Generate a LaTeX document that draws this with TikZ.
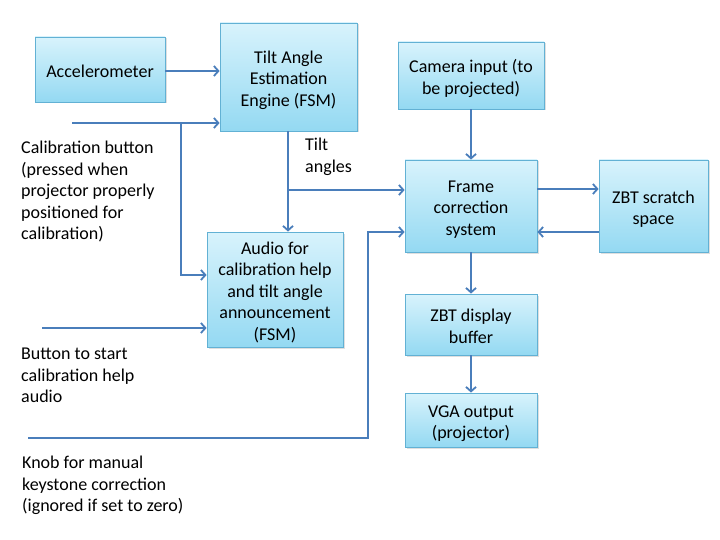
\documentclass[tikz,border=0pt]{standalone}
\usepackage{fontspec}
\setmainfont{Carlito}
\usetikzlibrary{arrows.meta,shadows}
\definecolor{boxtop}{HTML}{D8F3FC}
\definecolor{boxbot}{HTML}{94D9F2}
\definecolor{boxline}{HTML}{62B1D4}
\definecolor{wire}{HTML}{4A7EBB}
% box text, set a little low as in the slides
\newcommand{\boxtext}[1]{\raisebox{-3.5pt}[\height][\depth]{\begin{tabular}{@{}c@{}}#1\end{tabular}}}
\tikzset{
  block/.style={draw=boxline, line width=0.8pt, top color=boxtop, bottom color=boxbot,
    inner sep=2pt, drop shadow={opacity=0.25, shadow xshift=1.5pt, shadow yshift=-1.5pt}},
  wirestyle/.style={draw=wire, line width=2.2pt, -{Straight Barb[length=4.5pt,width=10pt,line width=1.8pt]}},
  info/.style={align=left, anchor=north west, inner sep=0pt}
}
\begin{document}
\begin{tikzpicture}[x=1pt, y=-1pt, font=\fontsize{18}{21.5}\selectfont]
    \useasboundingbox (0,0) rectangle (720,540);
    % place nodes
    \node [block, minimum width=130pt, minimum height=65pt] (acc) at (100,69.5) {\boxtext{Accelerometer}};
    \node [block, minimum width=137pt, minimum height=108pt] (tilt) at (288.5,77) {\boxtext{Tilt Angle\\Estimation\\Engine (FSM)}};
    \node [block, minimum width=136pt, minimum height=115pt] (audio) at (275,289.5) {\boxtext{Audio for\\calibration help\\and tilt angle\\announcement\\(FSM)}};
    \node [block, minimum width=146pt, minimum height=67pt] (cam) at (471,75.5) {\boxtext{Camera input (to\\be projected)}};
    \node [block, minimum width=132pt, minimum height=92pt] (frame) at (471,206) {\boxtext{Frame\\correction\\system}};
    \node [block, minimum width=109pt, minimum height=92pt] (zbts) at (653.5,206) {\boxtext{ZBT scratch\\space}};
    \node [block, minimum width=132pt, minimum height=61pt] (zbtd) at (471,324.5) {\boxtext{ZBT display\\buffer}};
    \node [block, minimum width=132pt, minimum height=54pt] (vga) at (471,420) {\boxtext{VGA output\\(projector)}};
    % input texts
    \node [info] (caltext) at (21,141) {Calibration button\\(pressed when\\projector properly\\positioned for\\calibration)};
    \node [info] (buttext) at (21,348) {Button to start\\calibration help\\audio};
    \node [info] (knobtext) at (22,456) {Knob for manual\\keystone correction\\(ignored if set to zero)};
    \node [info] (angtext) at (305,138) {Tilt\\angles};
    % wire ends and bends
    \coordinate (calin) at (72,123);
    \coordinate (calsplit) at (181,123);
    \coordinate (butin) at (42,328);
    \coordinate (knobin) at (28,438);
    \coordinate (knobbend) at (368,438);
    \coordinate (angsplit) at (288,190);
    % draw edges
    \draw [wirestyle] (acc.east |- 0,71) -- (tilt.west |- 0,71);
    \draw [wirestyle] (calin) -- (tilt.west |- calin);
    \draw [wirestyle] (calsplit) |- (audio.west |- 0,275);
    \draw [wirestyle] (tilt.south -| angsplit) -- (audio.north -| angsplit);
    \draw [wirestyle] (angsplit) -- (frame.west |- angsplit);
    \draw [wirestyle] (butin) -- (audio.west |- butin);
    \draw [wirestyle] (knobin) -- (knobbend) |- (frame.west |- 0,232);
    \draw [wirestyle] (cam.south) -- (frame.north);
    \draw [wirestyle] (frame.east |- 0,189) -- (zbts.west |- 0,189);
    \draw [wirestyle] (zbts.west |- 0,232) -- (frame.east |- 0,232);
    \draw [wirestyle] (frame.south) -- (zbtd.north);
    \draw [wirestyle] (zbtd.south) -- (vga.north);
  \end{tikzpicture}
\end{document}
